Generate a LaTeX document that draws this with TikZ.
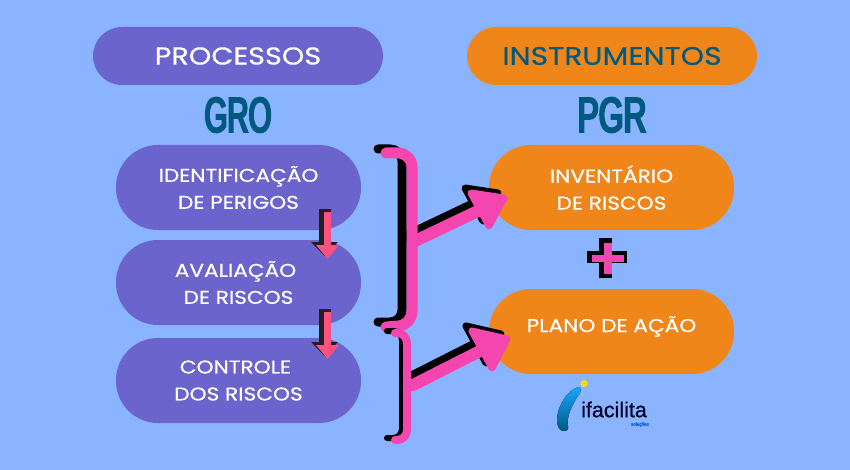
\documentclass[tikz,border=0pt]{standalone}
\usepackage{fontspec}
\setmainfont[FakeStretch=1.17,FakeBold=0.6]{Poppins}
\newfontfamily\grofont[FakeStretch=0.6,FakeBold=4.5]{Liberation Sans}
\newfontfamily\logofont[FakeBold=0.6]{Liberation Sans}
\usetikzlibrary{arrows.meta}
\definecolor{fundo}{RGB}{138,180,255}
\definecolor{roxo}{RGB}{106,100,204}
\definecolor{laranja}{RGB}{240,134,26}
\definecolor{azulesc}{RGB}{0,90,128}
\definecolor{rosa}{RGB}{245,69,175}
\definecolor{rosaseta}{RGB}{255,80,130}
\definecolor{sombra}{RGB}{35,31,32}
\begin{document}
\begin{tikzpicture}[x=1pt, y=-1pt,
            pill/.style={rectangle, rounded corners=29pt, minimum width=290pt, minimum height=58pt, inner sep=0pt, outer sep=0pt},
            caixa/.style={rectangle, rounded corners=42pt, minimum width=245pt, minimum height=85pt, inner sep=0pt, outer sep=0pt, text=white, align=center, font=\fontsize{18.5}{27}\selectfont},
            sigla/.style={text=azulesc, inner sep=0pt, font=\grofont\fontsize{49}{50}\selectfont},
            setinha/.style={line width=6.5pt, -{Triangle[length=14pt,width=22pt]}},
            setinhasombra/.style={line width=12pt, sombra, -{Triangle[length=14pt,width=26pt]}},
            haste/.style={line width=12pt, line cap=round},
            cabeca/.style={line width=7pt, line join=round}]
        \fill[fundo] (0,0) rectangle (850,470);

        \node[pill, fill=roxo, text=white, font=\fontsize{24.5}{28}\selectfont] (processos) at (238,56) {PROCESSOS};
        \node[pill, fill=laranja, text=azulesc, font=\fontsize{25.5}{28}\selectfont] (instrumentos) at (612,56) {INSTRUMENTOS};
        \node[sigla] (gro) at (238,115) {GRO};
        \node[sigla, xscale=1.08] (pgr) at (612,115) {PGR};

        \node[caixa, fill=roxo] (identificacao) at (238.5,187.5) {IDENTIFICAÇÃO\\DE PERIGOS};
        \node[caixa, fill=roxo] (avaliacao) at (238.5,282.5) {AVALIAÇÃO\hspace*{6pt}\\DE RISCOS};
        \node[caixa, fill=roxo] (controle) at (238.5,380.5) {CONTROLE\hspace*{6pt}\\DOS RISCOS};
        \node[caixa, fill=laranja] (inventario) at (611.5,187.5) {INVENTÁRIO\\DE RISCOS};
        \node[caixa, fill=laranja, label={[text=white, font=\fontsize{18.5}{27}\selectfont, yshift=5pt]center:PLANO DE AÇÃO}] (plano) at (611.5,331.5) {};

        % setas pequenas
        \coordinate (s1a) at (327.5,212);
        \coordinate (s1b) at (327.5,259);
        \coordinate (s2a) at (327.5,312);
        \coordinate (s2b) at (327.5,359);
        \draw[setinhasombra] ([shift={(-3,-3)}]s1a) -- ([shift={(-3,-3)}]s1b);
        \draw[setinha, rosaseta] (s1a) -- (s1b);
        \draw[setinhasombra] ([shift={(-3,-3)}]s2a) -- ([shift={(-3,-3)}]s2b);
        \draw[setinha, rosaseta] (s2a) -- (s2b);

        % setas grandes
        \coordinate (b1) at (415,241);
        \coordinate (c1) at (480,210);
        \coordinate (a1) at (471,193);
        \coordinate (d1) at (489,226);
        \coordinate (t1) at (504,198);
        \coordinate (b2) at (413,385);
        \coordinate (c2) at (482,350);
        \coordinate (a2) at (472,331);
        \coordinate (d2) at (492,368);
        \coordinate (t2) at (507,339);
        \foreach \n in {1,2} {
            \draw[haste, black] ([shift={(-6,-5)}]b\n) -- ([shift={(-6,-5)}]c\n);
            \filldraw[cabeca, black] ([shift={(-6,-5)}]a\n) -- ([shift={(-6,-5)}]t\n) -- ([shift={(-6,-5)}]d\n) -- cycle;
            \draw[haste, rosa] (b\n) -- (c\n);
            \filldraw[cabeca, rosa] (a\n) -- (t\n) -- (d\n) -- cycle;
        }

        % chaves
        \draw[black, line width=9pt, line cap=round, rounded corners=12pt] (378,149) -- (402,149) -- (402,322) -- (378,322);
        \draw[rosa, line width=11pt, line cap=round, rounded corners=14pt] (386,153) -- (412,153) -- (412,325) -- (386,327);
        \draw[black, line width=6pt, line cap=round, rounded corners=9pt] (387,331) -- (402,331) -- (402,438) -- (387,438);
        \draw[rosa, line width=8pt, line cap=round, rounded corners=10pt] (395,333) -- (407,333) -- (407,440) -- (395,440);

        % mais
        \draw[black, line width=12pt] (587,257) -- (627,257);
        \draw[black, line width=13pt] (605.5,238) -- (605.5,278);
        \draw[rosa, line width=7pt] (592,258.5) -- (624,258.5);
        \draw[rosa, line width=8pt] (608,243) -- (608,274);

        % logo
        \fill[top color=cyan!60!blue!90, bottom color=azulesc] (578,387) .. controls (566,391) and (557,408) .. (557,420) .. controls (557,427) and (560,431) .. (564,431) .. controls (567,431) and (569,429) .. (568,426) .. controls (566,418) and (572,404) .. (580,393) .. controls (581,390) and (581,387) .. (578,387) -- cycle;
        \fill[yellow!80!orange] (584,383.5) circle (3.5);
        \node[inner sep=0pt, text=black!85!blue, font=\logofont\fontsize{21.5}{22}\selectfont] (ifacilita) at (614,409.5) {ifacilita};
        \node[inner sep=0pt, text=blue!70!cyan, font=\logofont\fontsize{4.5}{5}\selectfont, anchor=east] (solucoes) at (649,424.5) {soluções};
    \end{tikzpicture}
\end{document}
